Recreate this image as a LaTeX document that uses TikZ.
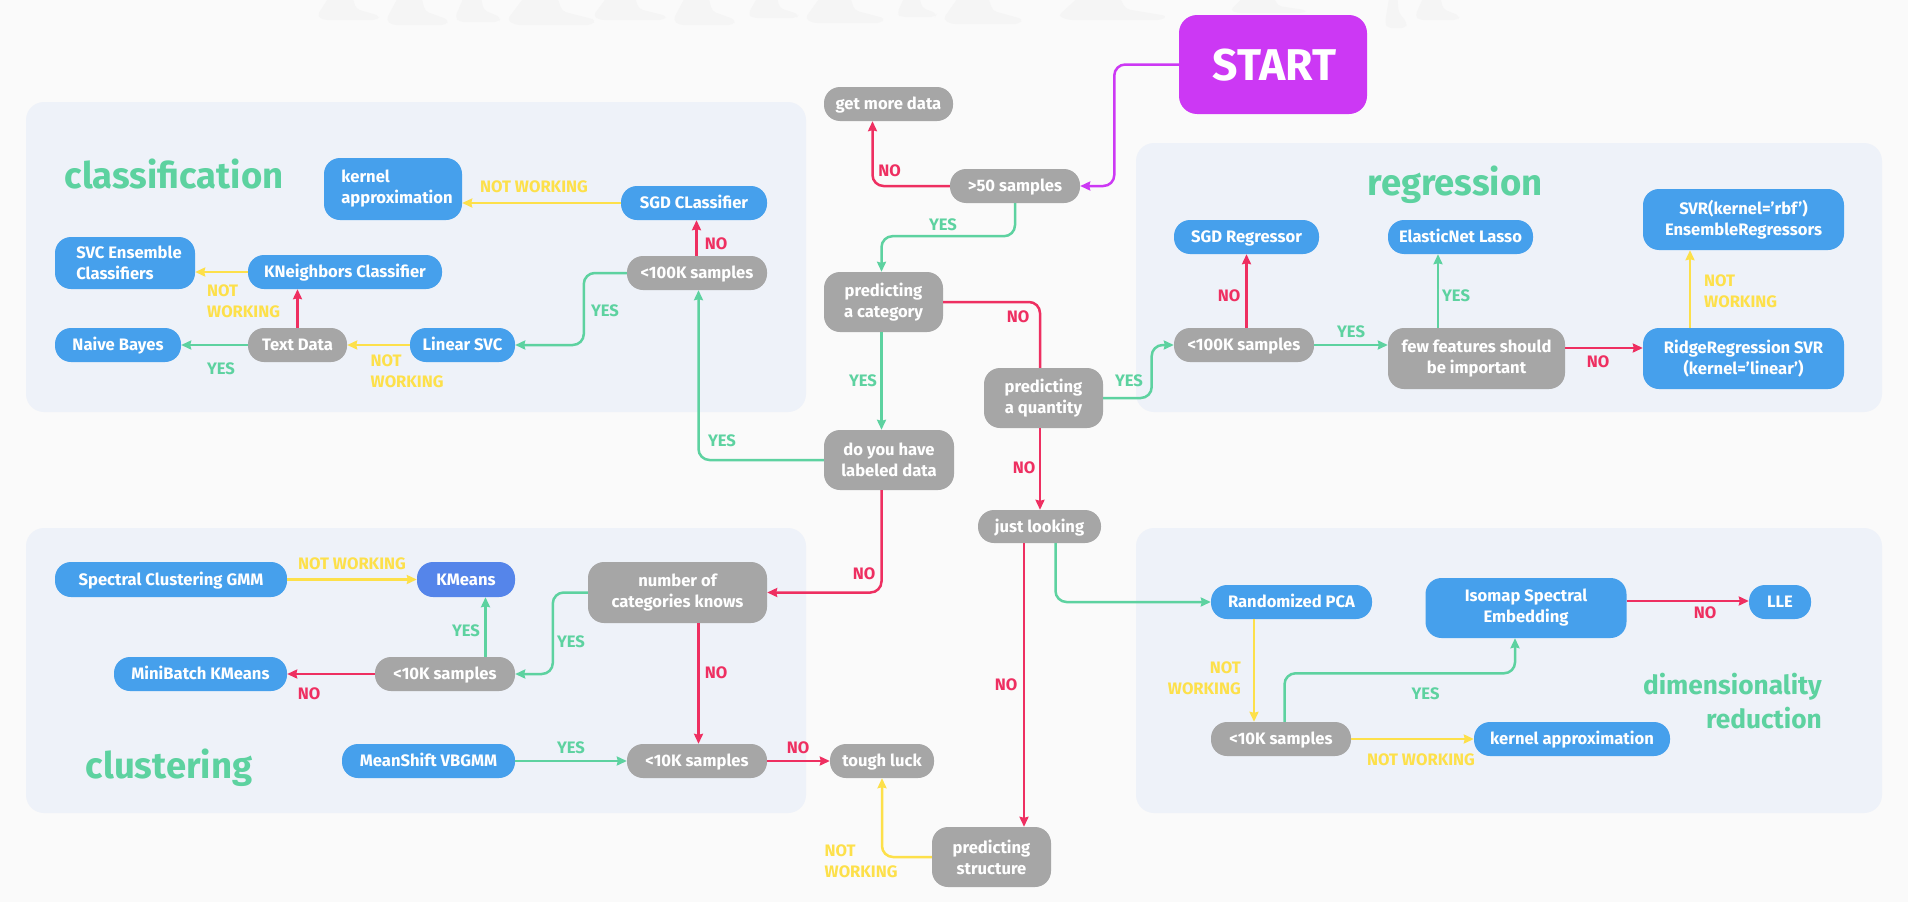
\documentclass[tikz,border=0pt]{standalone}
\usepackage{fontspec}
\setmainfont{Fira Sans}
\usetikzlibrary{arrows.meta}
\definecolor{bgc}{HTML}{FAFAFA}
\definecolor{footc}{HTML}{F5F5F5}
\definecolor{panelc}{HTML}{EEF2F9}
\definecolor{bluec}{HTML}{46A0EC}
\definecolor{kmc}{HTML}{5585EA}
\definecolor{grayc}{HTML}{A6A6A6}
\definecolor{greenc}{HTML}{5DD2A0}
\definecolor{redc}{HTML}{EE2F61}
\definecolor{yellowc}{HTML}{FDE04A}
\definecolor{purplec}{HTML}{CC38F4}
\tikzset{
  panel/.style={fill=panelc,rounded corners=18pt,draw=none},
  bx/.style={rounded corners=16pt,inner sep=0pt,text=white,align=center,font=\fontsize{16.6}{21}\selectfont\bfseries,execute at begin node={\rule{0pt}{15pt}}},
  blue box/.style={bx,fill=bluec},
  gray box/.style={bx,fill=grayc},
  one/.style={text height=15pt,text depth=3.6pt},
  blue one/.style={blue box,one},
  gray one/.style={gray box,one},
  conn/.style={line width=2.5pt,rounded corners=11pt,-{Stealth[length=10pt,width=9pt,inset=1pt]}},
  plainconn/.style={line width=2.5pt,rounded corners=11pt},
  cg/.style={conn,draw=greenc},
  cr/.style={conn,draw=redc},
  cy/.style={conn,draw=yellowc},
  cp/.style={conn,draw=purplec},
  lab/.style={inner sep=0pt,align=center,font=\fontsize{16.6}{21}\selectfont\bfseries},
  lg/.style={lab,text=greenc},
  lr/.style={lab,text=redc},
  ly/.style={lab,text=yellowc},
  head/.style={inner sep=0pt,text=greenc,text height=26pt,text depth=2pt,font=\fontsize{36.5}{40}\selectfont\bfseries},
}
\begin{document}
\begin{tikzpicture}[x=1pt,y=-1pt]
\useasboundingbox (0,0) rectangle (1908,902);
\fill[bgc] (0,0) rectangle (1908,902);
% faint row of feet along the top edge
\foreach \x/\w/\h in {317/63/20,386/63/25,455/46/22,507/89/25,593/74/20,673/63/25,748/51/18,805/80/23,897/40/17,943/80/24,1058/109/20,1230/77/13,1385/22/28,1415/45/20}
  \fill[footc,rounded corners=4pt] ({\x+0.22*\w},-6) -- ({\x+0.55*\w},-6) -- ({\x+0.62*\w},{0.45*\h}) -- ({\x+\w},{0.8*\h}) -- ({\x+0.95*\w},\h) -- ({\x+0.1*\w},\h) -- ({\x},{0.8*\h}) -- cycle;
% panels
\fill[panel] (26,102) rectangle (806,412);
\fill[panel] (1136,143) rectangle (1882,412);
\fill[panel] (26,528) rectangle (806,813);
\fill[panel] (1136,528) rectangle (1882,813);
% headings
\node[head] (hcls) at (174,176) {classification};
\node[head] (hreg) at (1455,183) {regression};
\node[head] (hclu) at (169,766) {clustering};
\node[inner sep=0pt,text=greenc,font=\fontsize{26.3}{33.5}\selectfont\bfseries,align=right,anchor=east] (hdim) at (1822,701) {dimensionality\\reduction};
% start
\node[bx,fill=purplec,font=\fontsize{44.5}{50}\selectfont\bfseries,minimum width=188pt,minimum height=99pt,rounded corners=18pt,execute at begin node={},text height=32pt,text depth=0pt] (start) at (1273,64.5) {\hspace*{3pt}START};
% centre column
\node[gray one,minimum width=129pt,minimum height=34pt] (more) at (888.5,104) {get more data};
\node[gray one,minimum width=130pt,minimum height=34pt] (s50) at (1015,186) {>50 samples};
\node[gray box,minimum width=119pt,minimum height=60pt] (cat) at (883.5,302) {predicting\\a category};
\node[gray box,minimum width=130pt,minimum height=60pt] (lab) at (889,460) {do you have\\labeled data};
\node[gray box,minimum width=119pt,minimum height=60pt] (qty) at (1043.5,398) {predicting\\a quantity};
\node[gray one,minimum width=123pt,minimum height=33pt] (look) at (1039.5,526.5) {just looking};
\node[gray box,minimum width=119pt,minimum height=60pt] (str) at (991.5,857) {predicting\\structure};
\node[gray one,minimum width=104pt,minimum height=34pt] (tough) at (882,761) {tough luck};
% classification
\node[blue box,minimum width=138pt,minimum height=62pt,align=left,execute at begin node={\rule{0pt}{21pt}}] (kern1) at (393,189) {\hspace*{8pt}kernel\\\hspace*{8pt}approximation};
\node[blue one,minimum width=146pt,minimum height=34pt] (sgdc) at (694,203) {SGD CLassifier};
\node[blue box,minimum width=140pt,minimum height=52pt,align=left] (svc) at (125,263) {\hspace*{8pt}SVC Ensemble\\\hspace*{8pt}Classifiers};
\node[blue one,minimum width=194pt,minimum height=34pt] (knn) at (345,272) {KNeighbors Classifier};
\node[gray one,minimum width=140pt,minimum height=34pt] (c100) at (697,273) {<100K samples};
\node[blue one,minimum width=126pt,minimum height=34pt] (nb) at (118,345) {Naive Bayes};
\node[gray one,minimum width=99pt,minimum height=34pt] (text) at (297.5,345) {Text Data};
\node[blue one,minimum width=105pt,minimum height=34pt] (lsvc) at (462.5,345) {Linear SVC};
% regression
\node[blue one,minimum width=145pt,minimum height=34pt] (sgdr) at (1246.5,237) {SGD Regressor};
\node[blue one,minimum width=145pt,minimum height=34pt] (enet) at (1460.5,237) {ElasticNet Lasso};
\node[blue box,minimum width=201pt,minimum height=61pt] (svr) at (1743.5,219.5) {SVR(kernel='rbf')\\EnsembleRegressors};
\node[gray one,minimum width=140pt,minimum height=34pt] (r100) at (1244,345) {<100K samples};
\node[gray box,minimum width=177pt,minimum height=61pt] (few) at (1476.5,358.5) {few features should\\be important};
\node[blue box,minimum width=201pt,minimum height=61pt] (ridge) at (1743.5,358.5) {RidgeRegression SVR\\(kernel='linear')};
% clustering
\node[blue one,minimum width=232pt,minimum height=35pt] (spec) at (171,579.5) {Spectral Clustering GMM};
\node[bx,one,fill=kmc,minimum width=98pt,minimum height=35pt] (km) at (466,579.5) {KMeans};
\node[gray box,minimum width=179pt,minimum height=61pt] (num) at (677.5,592.5) {number of\\categories knows};
\node[gray one,minimum width=140pt,minimum height=34pt] (k10a) at (445,674) {<10K samples};
\node[blue one,minimum width=173pt,minimum height=34pt] (mini) at (200.5,674) {MiniBatch KMeans};
\node[blue one,minimum width=173pt,minimum height=34pt] (ms) at (428.5,761) {MeanShift VBGMM};
\node[gray one,minimum width=140pt,minimum height=34pt] (k10b) at (697,761) {<10K samples};
% dimensionality
\node[blue one,minimum width=161pt,minimum height=34pt] (pca) at (1291.5,602) {Randomized PCA};
\node[blue box,minimum width=201pt,minimum height=60pt] (iso) at (1526,608) {Isomap Spectral\\Embedding};
\node[blue one,minimum width=62pt,minimum height=34pt] (lle) at (1780,602) {LLE};
\node[gray one,minimum width=140pt,minimum height=34pt] (k10c) at (1281,739) {<10K samples};
\node[blue one,minimum width=196pt,minimum height=34pt] (kern2) at (1572,739) {kernel approximation};
% connectors
\draw[cp] (start.west) -- ++(-64.5,0) |- (s50.east);
\draw[cr] (s50.west) -| ([xshift=-16pt]more.south);
\draw[cg] (s50.south) -- ++(0,33) -| ([xshift=-2pt]cat.north);
\draw[cg] ([xshift=-2pt]cat.south) -- ([xshift=-7.5pt]lab.north);
\draw[plainconn,draw=redc] (cat.east) -| ([xshift=-3.5pt]qty.north);
\draw[cr] ([xshift=-3.5pt]qty.south) -- ([xshift=0.5pt]look.north);
\draw[cg] (lab.west) -| ([xshift=1.5pt]c100.south);
\draw[cr] ([xshift=-7.5pt]lab.south) |- (num.east);
% classification
\draw[cg] (c100.west) -- ++(-43,0) |- (lsvc.east);
\draw[cr] ([xshift=-0.5pt]c100.north) -- ([xshift=2.5pt]sgdc.south);
\draw[cy] (sgdc.west) -- ([yshift=-14pt]kern1.east);
\draw[cy] (lsvc.west) -- (text.east);
\draw[cr] (text.north) -- ([xshift=-47.5pt]knn.south);
\draw[cg] (text.west) -- (nb.east);
\draw[cy] (knn.west) -- ([yshift=-9pt]svc.east);
% regression
\draw[cg] (qty.east) -- ++(48.5,0) |- (r100.west);
\draw[cr] ([xshift=2.5pt]r100.north) -- (sgdr.south);
\draw[cg] (r100.east) -- ([yshift=13.5pt]few.west);
\draw[cg] ([xshift=-38.5pt]few.north) -- ([xshift=-22.5pt]enet.south);
\draw[cr] ([yshift=10.5pt]few.east) -- ([yshift=10.5pt]ridge.west);
\draw[cy] ([xshift=-53.5pt]ridge.north) -- ([xshift=-53.5pt]svr.south);
% clustering
\draw[cy] (spec.east) -- (km.west);
\draw[cg] (num.west) -- ++(-35,0) |- (k10a.east);
\draw[cg] ([xshift=40.5pt]k10a.north) -- ([xshift=19.5pt]km.south);
\draw[cr] (k10a.west) -- (mini.east);
\draw[cr] ([xshift=21pt]num.south) -- ([xshift=1.5pt]k10b.north);
\draw[cg] (ms.east) -- (k10b.west);
\draw[cr] (k10b.east) -- (tough.west);
\draw[cy] (str.west) -| (tough.south);
% dimensionality
\draw[cr] ([xshift=-15.5pt]look.south) -- ([xshift=32.5pt]str.north);
\draw[cg] ([xshift=16pt]look.south) |- (pca.west);
\draw[cy] ([xshift=-37.5pt]pca.south) -- ([xshift=-27pt]k10c.north);
\draw[cg] ([xshift=3.5pt]k10c.north) -- ++(0,-48.5) -| ([xshift=-11pt]iso.south);
\draw[cy] (k10c.east) -- (kern2.west);
\draw[cr] ([yshift=7pt]iso.east) -- ([yshift=1pt]lle.west);
% labels
\node[lr] (l1) at (889.5,171) {NO};
\node[lg] (l2) at (943,225) {YES};
\node[lg] (l3) at (863,381) {YES};
\node[lg] (l4) at (722,441) {YES};
\node[ly] (l5) at (534,187) {NOT WORKING};
\node[lr] (l6) at (716,244) {NO};
\node[ly,align=left,anchor=west] (l7) at (207,301.5) {NOT\\WORKING};
\node[lg] (l8) at (605,311) {YES};
\node[ly,align=left,anchor=west] (l9) at (370.5,371) {NOT\\WORKING};
\node[lg] (l10) at (221,369) {YES};
\node[lr] (l11) at (1018,317) {NO};
\node[lr] (l12) at (1229,296) {NO};
\node[lg] (l13) at (1456,296) {YES};
\node[lg] (l14) at (1351,332) {YES};
\node[lg] (l15) at (1129,381) {YES};
\node[lr] (l16) at (1598,362) {NO};
\node[ly,align=left,anchor=west] (l17) at (1704,291.5) {NOT\\WORKING};
\node[ly] (l18) at (352,564) {NOT WORKING};
\node[lg] (l19) at (466,631) {YES};
\node[lg] (l20) at (571,642) {YES};
\node[lr] (l21) at (309,694) {NO};
\node[lr] (l22) at (716,673) {NO};
\node[lg] (l23) at (571,748) {YES};
\node[lr] (l24) at (798,748) {NO};
\node[lr] (l25) at (864,574) {NO};
\node[ly,align=left,anchor=west] (l26) at (824.5,861.5) {NOT\\WORKING};
\node[lr] (l27) at (1024,468) {NO};
\node[lr] (l28) at (1006,685) {NO};
\node[ly,align=right,anchor=east] (l29) at (1241,678.5) {NOT\\WORKING};
\node[lg] (l30) at (1425.5,694) {YES};
\node[lr] (l31) at (1705,613) {NO};
\node[ly] (l32) at (1421,760) {NOT WORKING};
\end{tikzpicture}
\end{document}
